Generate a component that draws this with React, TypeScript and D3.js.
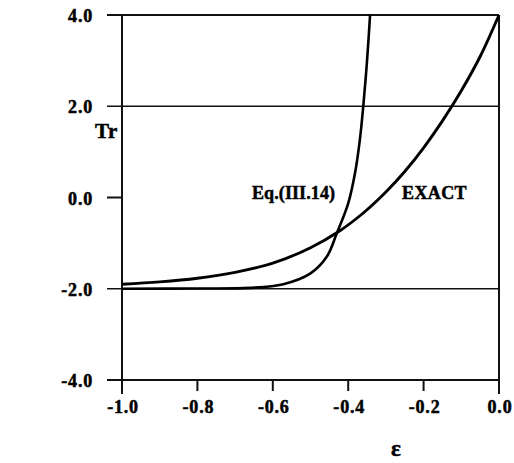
import React from "react";
import * as d3 from "d3";

const xTicks = [-1.0, -0.8, -0.6, -0.4, -0.2, 0.0];
const yTicks = [-4.0, -2.0, 0.0, 2.0, 4.0];
const gridY = [-2.0, 2.0];

const exactEps = [-1.0, -0.9, -0.8, -0.7, -0.6, -0.5, -0.424, -0.36, -0.3, -0.25, -0.2, -0.15, -0.1, -0.05, 0.0];
const exactTr = [-1.9, -1.85, -1.77, -1.64, -1.44, -1.1, -0.74, -0.34, 0.12, 0.57, 1.09, 1.68, 2.34, 3.09, 4.0];

const eqEps = [-1.0, -0.8, -0.66, -0.572, -0.501, -0.457, -0.43, -0.4, -0.382, -0.369, -0.36, -0.35, -0.342];
const eqTr = [-2.0, -1.995, -1.98, -1.9, -1.67, -1.3, -0.78, -0.13, 0.53, 1.27, 2.0, 3.0, 4.0];

const W = 514;
const H = 463;
const L = 122, R = 499, T = 15, B = 380;

export default function App() {
  const x = d3.scaleLinear().domain([-1, 0]).range([L, R]);
  const y = d3.scaleLinear().domain([-4, 4]).range([B, T]);
  const line = d3
    .line<[number, number]>()
    .x((d) => x(d[0]))
    .y((d) => y(d[1]))
    .curve(d3.curveCatmullRom.alpha(0.5));
  const exactPath = line(exactEps.map((e, i) => [e, exactTr[i]]) as [number, number][]) || "";
  const eqPath = line(eqEps.map((e, i) => [e, eqTr[i]]) as [number, number][]) || "";
  const font = "'Liberation Serif', 'Times New Roman', serif";
  const txt = { stroke: "#000", strokeWidth: 0.5, fill: "#000" } as const;
  return (
    <svg
      width={W}
      height={H}
      style={{ position: "absolute", left: 0, top: 0, background: "#fff" }}
      fontFamily={font}
      fontWeight="bold"
    >
      <rect x={0} y={0} width={W} height={H} fill="#fff" />
      {gridY.map((v) => (
        <line key={"g" + v} x1={L - 15} x2={R} y1={y(v)} y2={y(v)} stroke="#111" strokeWidth={1.7} />
      ))}
      <line x1={L - 15} x2={R} y1={y(4)} y2={y(4)} stroke="#111" strokeWidth={2} />
      <line x1={L - 15} x2={R} y1={y(-4)} y2={y(-4)} stroke="#111" strokeWidth={2} />
      <line x1={L - 15} x2={L} y1={y(0)} y2={y(0)} stroke="#111" strokeWidth={2} />
      <line x1={L} x2={L} y1={T} y2={B + 14} stroke="#111" strokeWidth={2} />
      <line x1={R} x2={R} y1={T} y2={B + 14} stroke="#111" strokeWidth={2} />
      {xTicks.slice(1, -1).map((v) => (
        <line key={"xt" + v} x1={x(v)} x2={x(v)} y1={B} y2={B + 11} stroke="#111" strokeWidth={2} />
      ))}
      <path d={exactPath} fill="none" stroke="#000" strokeWidth={2.9} />
      <path d={eqPath} fill="none" stroke="#000" strokeWidth={2.6} />
      {yTicks.map((v) => (
        <text key={"yl" + v} x={93} y={y(v) + 7} textAnchor="end" fontSize={18} letterSpacing={0.8} {...txt}>
          {v.toFixed(1)}
        </text>
      ))}
      {xTicks.map((v) => (
        <text key={"xl" + v} x={x(v) + 1} y={413} textAnchor="middle" fontSize={18} letterSpacing={0.8} {...txt}>
          {v.toFixed(1)}
        </text>
      ))}
      <text x={95} y={138} fontSize={21} letterSpacing={0.5} {...txt}>Tr</text>
      <text x={396} y={456} fontSize={23} textAnchor="middle" {...txt}>ε</text>
      <text x={252} y={199} fontSize={18} letterSpacing={0.1} {...txt}>Eq.(III.14)</text>
      <text x={402} y={199} fontSize={18} letterSpacing={0.4} {...txt}>EXACT</text>
    </svg>
  );
}
